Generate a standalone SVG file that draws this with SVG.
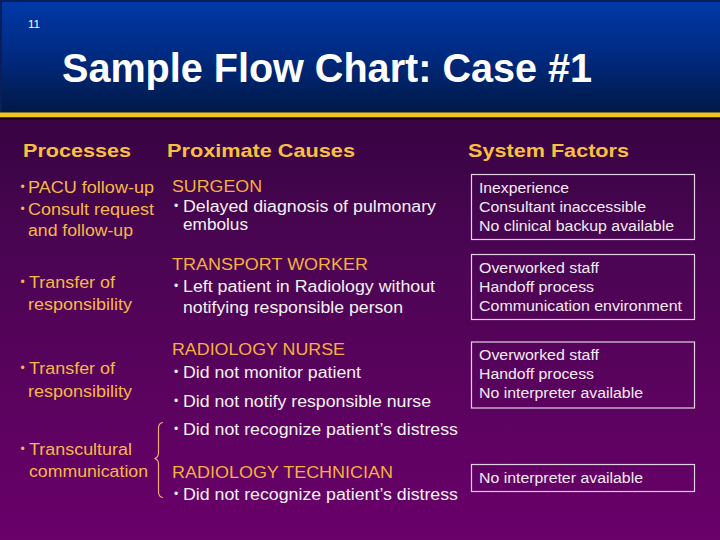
<svg xmlns="http://www.w3.org/2000/svg" width="720" height="540" viewBox="0 0 720 540">
<defs>
<linearGradient id="hdr" x1="0" y1="0" x2="0" y2="1">
<stop offset="0" stop-color="#0039a8"/>
<stop offset="0.5" stop-color="#002a80"/>
<stop offset="1" stop-color="#001845"/>
</linearGradient>
<linearGradient id="body" x1="0" y1="0" x2="0" y2="1">
<stop offset="0" stop-color="#240232"/>
<stop offset="0.45" stop-color="#4a0552"/>
<stop offset="1" stop-color="#6a006a"/>
</linearGradient>
<style>
text{font-family:"Liberation Sans",Arial,sans-serif}
.title{font-size:40px;font-weight:bold;fill:#ffffff}
.colh{font-size:18.5px;font-weight:bold;fill:#f8c040}
.proc{font-size:16px;fill:#f6b846}
.role{font-size:16px;fill:#f4b040}
.item{font-size:16px;fill:#f2f2f2}
.pb{font-size:12px;fill:#f6b846}
.ib{font-size:12px;fill:#f2f2f2}
.fac{font-size:14px;fill:#f2ecf2}
.box{fill:none;stroke:#e0d2e0;stroke-width:1.2}
.brace{fill:none;stroke:#f2a878;stroke-width:1.2}
</style>
</defs>
<rect x="0" y="0" width="720" height="540" fill="url(#body)"/>
<g id="header">
<rect x="0" y="0" width="720" height="113" fill="url(#hdr)"/>
<rect x="0" y="0" width="720" height="2" fill="#0a1e5a"/>
<rect x="0" y="0" width="2" height="113" fill="#0a1e5a"/>
<rect x="0" y="112.5" width="720" height="5" fill="#f2c420"/>
<rect x="0" y="117.5" width="720" height="2" fill="#1a0020"/>
<text x="28" y="28" font-size="11" fill="#ffffff" textLength="12" lengthAdjust="spacingAndGlyphs">11</text>
<text class="title" x="62" y="82" textLength="530" lengthAdjust="spacingAndGlyphs">Sample Flow Chart: Case #1</text>
</g>
<g id="column-headers">
<text class="colh" x="23" y="157" textLength="108" lengthAdjust="spacingAndGlyphs">Processes</text>
<text class="colh" x="167" y="157" textLength="188" lengthAdjust="spacingAndGlyphs">Proximate Causes</text>
<text class="colh" x="468" y="157" textLength="161" lengthAdjust="spacingAndGlyphs">System Factors</text>
</g>
<g id="proc-1">
<text class="pb" x="20.5" y="191">•</text>
<text class="proc" x="28" y="193" textLength="126" lengthAdjust="spacingAndGlyphs">PACU follow-up</text>
<text class="pb" x="20.5" y="213">•</text>
<text class="proc" x="28" y="215" textLength="126" lengthAdjust="spacingAndGlyphs">Consult request</text>
<text class="proc" x="28" y="236" textLength="105" lengthAdjust="spacingAndGlyphs">and follow-up</text>
</g>
<g id="proc-2">
<text class="pb" x="20.5" y="286">•</text>
<text class="proc" x="29" y="288" textLength="86" lengthAdjust="spacingAndGlyphs">Transfer of</text>
<text class="proc" x="28" y="310" textLength="104" lengthAdjust="spacingAndGlyphs">responsibility</text>
</g>
<g id="proc-3">
<text class="pb" x="20.5" y="372">•</text>
<text class="proc" x="29" y="374" textLength="86" lengthAdjust="spacingAndGlyphs">Transfer of</text>
<text class="proc" x="28" y="397" textLength="104" lengthAdjust="spacingAndGlyphs">responsibility</text>
</g>
<g id="proc-4">
<text class="pb" x="20.5" y="453">•</text>
<text class="proc" x="29" y="455" textLength="103" lengthAdjust="spacingAndGlyphs">Transcultural</text>
<text class="proc" x="29" y="477" textLength="119" lengthAdjust="spacingAndGlyphs">communication</text>
</g>
<g id="cause-surgeon">
<text class="role" x="172" y="192" textLength="90" lengthAdjust="spacingAndGlyphs">SURGEON</text>
<text class="ib" x="174" y="210">•</text>
<text class="item" x="183" y="212" textLength="253" lengthAdjust="spacingAndGlyphs">Delayed diagnosis of pulmonary</text>
<text class="item" x="183" y="230" textLength="65" lengthAdjust="spacingAndGlyphs">embolus</text>
</g>
<g id="cause-transport">
<text class="role" x="172" y="270" textLength="196" lengthAdjust="spacingAndGlyphs">TRANSPORT WORKER</text>
<text class="ib" x="174" y="290">•</text>
<text class="item" x="183" y="292" textLength="252" lengthAdjust="spacingAndGlyphs">Left patient in Radiology without</text>
<text class="item" x="183" y="313" textLength="220" lengthAdjust="spacingAndGlyphs">notifying responsible person</text>
</g>
<g id="cause-nurse">
<text class="role" x="172" y="355" textLength="173" lengthAdjust="spacingAndGlyphs">RADIOLOGY NURSE</text>
<text class="ib" x="174" y="376">•</text>
<text class="item" x="183" y="378" textLength="178" lengthAdjust="spacingAndGlyphs">Did not monitor patient</text>
<text class="ib" x="174" y="405">•</text>
<text class="item" x="183" y="407" textLength="248" lengthAdjust="spacingAndGlyphs">Did not notify responsible nurse</text>
<text class="ib" x="174" y="433">•</text>
<text class="item" x="183" y="435" textLength="275" lengthAdjust="spacingAndGlyphs">Did not recognize patient’s distress</text>
</g>
<g id="cause-technician">
<text class="role" x="172" y="478" textLength="221" lengthAdjust="spacingAndGlyphs">RADIOLOGY TECHNICIAN</text>
<text class="ib" x="174" y="498">•</text>
<text class="item" x="183" y="500" textLength="275" lengthAdjust="spacingAndGlyphs">Did not recognize patient’s distress</text>
</g>
<g id="factor-1">
<rect class="box" x="471.5" y="174.5" width="223" height="65"/>
<text class="fac" x="479" y="193" textLength="90" lengthAdjust="spacingAndGlyphs">Inexperience</text>
<text class="fac" x="479" y="212" textLength="167" lengthAdjust="spacingAndGlyphs">Consultant inaccessible</text>
<text class="fac" x="479" y="231" textLength="195" lengthAdjust="spacingAndGlyphs">No clinical backup available</text>
</g>
<g id="factor-2">
<rect class="box" x="471.5" y="254.5" width="223" height="65"/>
<text class="fac" x="479" y="273" textLength="120" lengthAdjust="spacingAndGlyphs">Overworked staff</text>
<text class="fac" x="479" y="292" textLength="115" lengthAdjust="spacingAndGlyphs">Handoff process</text>
<text class="fac" x="479" y="311" textLength="203" lengthAdjust="spacingAndGlyphs">Communication environment</text>
</g>
<g id="factor-3">
<rect class="box" x="471.5" y="342" width="223" height="66"/>
<text class="fac" x="479" y="360" textLength="120" lengthAdjust="spacingAndGlyphs">Overworked staff</text>
<text class="fac" x="479" y="379" textLength="115" lengthAdjust="spacingAndGlyphs">Handoff process</text>
<text class="fac" x="479" y="398" textLength="164" lengthAdjust="spacingAndGlyphs">No interpreter available</text>
</g>
<g id="factor-4">
<rect class="box" x="471.5" y="464.5" width="223" height="27"/>
<text class="fac" x="479" y="483" textLength="164" lengthAdjust="spacingAndGlyphs">No interpreter available</text>
</g>
<g id="connectors">
<path class="brace" d="M163,422.5 Q158.5,423 158.5,428 L158.5,453 Q158.5,457.5 154.5,458.5 Q158.5,459.5 158.5,464 L158.5,492 Q158.5,497 163,497.5"/>
</g>
</svg>
